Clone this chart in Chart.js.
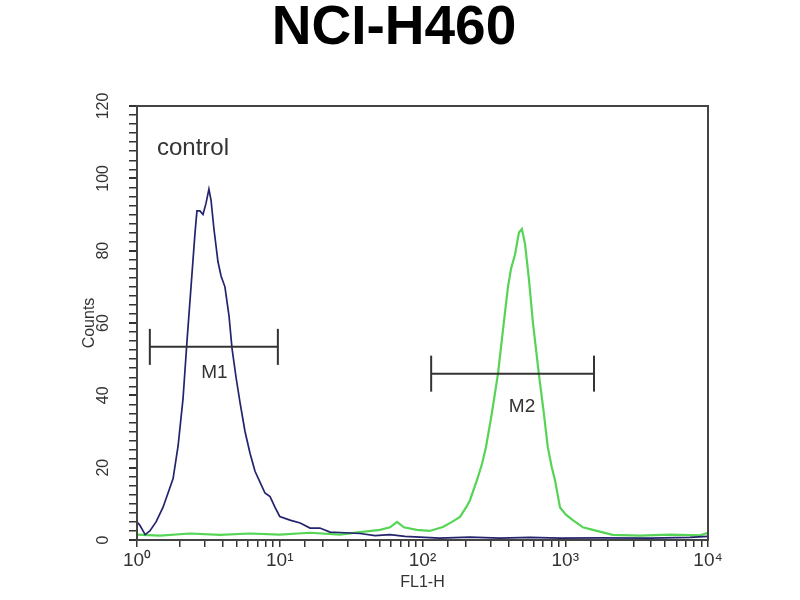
<!DOCTYPE html>
<html>
<head>
<meta charset="utf-8">
<script src="https://cdn.jsdelivr.net/npm/chart.js@4.4.0/dist/chart.umd.min.js"></script>
<style>
  html, body { margin: 0; padding: 0; background: #fff; }
  #wrap { width: 800px; height: 600px; }
</style>
</head>
<body>
<div id="wrap"><canvas id="myChart" width="800" height="600"></canvas></div>
<script>
// control histogram (FL1-H value, counts)
const controlFl1 = [1.0, 1.05, 1.14, 1.23, 1.36, 1.52, 1.65, 1.79, 1.94, 2.10, 2.24, 2.39, 2.55, 2.63, 2.76, 2.90, 3.04, 3.19, 3.30, 3.46, 3.69, 3.88, 4.13, 4.41, 4.63, 4.94, 5.27, 5.71, 6.19, 6.71, 7.27, 7.88, 8.55, 9.27, 10.0, 11.8, 13.9, 16.3, 19.1, 22.5, 28.6, 36.5, 46.5, 59.2, 75.4, 96, 132, 215, 349, 566, 919, 1750, 3925, 7480, 10000];
const controlCounts = [5, 4, 1.5, 2.5, 5, 9, 13, 17, 26, 39, 55, 70, 85, 91, 91, 90, 93, 97, 94, 86, 77, 73, 70, 62, 53, 45, 38, 30, 24, 19, 16, 13, 12, 9, 6.5, 5.5, 4.7, 3.3, 3.3, 2.2, 2, 1.8, 1.2, 1.5, 1, 0.8, 0.5, 0.8, 0.5, 0.7, 0.5, 0.6, 0.5, 0.7, 1];

// NCI-H460 stained sample
const sampleFl1 = [1.0, 1.45, 2.35, 3.81, 6.19, 10.0, 16.3, 26.4, 36.5, 50.4, 59.2, 66.4, 74, 91.2, 112, 139, 161, 183, 202, 215, 241, 261, 278, 306, 338, 366, 397, 417, 431, 445, 474, 497, 522, 557, 594, 653, 708, 755, 806, 847, 919, 1010, 1130, 1330, 1560, 2150, 3340, 5400, 8800, 10000];
const sampleCounts = [1.5, 1.2, 1.8, 1.4, 1.8, 1.5, 2, 1.5, 2.2, 2.8, 3.5, 5, 3.5, 2.8, 2.5, 3.6, 5, 6.4, 9, 11, 16.6, 21, 25.6, 35, 46, 58, 70, 75, 77, 79, 85, 86, 82, 72, 60, 46, 35, 25.6, 20, 16.6, 9, 7, 5.5, 3.5, 2.8, 1.4, 1.2, 1.5, 1.3, 2];

// marker gates
const m1Range = [1.23, 9.7];
const m1Level = 53.4;
const m2Range = [115, 1590];
const m2Level = 46;

const xTickValues = [1, 10, 100, 1000, 10000];
const xTickLabels = ['10\u2070', '10\u00b9', '10\u00b2', '10\u00b3', '10\u2074'];
const yTickValues = [0, 20, 40, 60, 80, 100, 120];

const blue = '#23236e';
const green = '#55d455';
const ink = '#333333';

function toPoints(xs, ys) {
  return xs.map((x, i) => ({ x: x, y: ys[i] }));
}

const gatePlugin = {
  id: 'gateLabels',
  afterDraw(chart) {
    const ctx = chart.ctx;
    const xs = chart.scales.x;
    const ys = chart.scales.y;
    const a = chart.chartArea;

    ctx.save();
    // title
    ctx.fillStyle = '#000';
    ctx.font = 'bold 55px "Liberation Sans", Arial, sans-serif';
    ctx.textAlign = 'center';
    ctx.textBaseline = 'alphabetic';
    ctx.fillText('NCI-H460', 394, 44);

    // frame round the plot
    ctx.strokeStyle = '#444';
    ctx.lineWidth = 2;
    ctx.strokeRect(a.left, a.top, a.right - a.left, a.bottom - a.top);

    // rotated y tick labels
    ctx.fillStyle = ink;
    ctx.font = '16px "Liberation Sans Narrow", "Liberation Sans", Arial, sans-serif';
    ctx.textAlign = 'center';
    ctx.textBaseline = 'middle';
    yTickValues.forEach(v => {
      ctx.save();
      ctx.translate(104, ys.getPixelForValue(v));
      ctx.rotate(-Math.PI / 2);
      ctx.fillText(String(v), 0, 0);
      ctx.restore();
    });

    // annotations
    ctx.textBaseline = 'alphabetic';
    ctx.font = '24px "Liberation Sans", Arial, sans-serif';
    ctx.textAlign = 'left';
    ctx.fillText('control', xs.getPixelForValue(1.38), ys.getPixelForValue(106.4));

    ctx.font = '19px "Liberation Sans", Arial, sans-serif';
    ctx.textAlign = 'center';
    ctx.fillText('M1', xs.getPixelForValue(3.49), ys.getPixelForValue(44.8));
    ctx.fillText('M2', xs.getPixelForValue(498), ys.getPixelForValue(35.4));
    ctx.restore();
  }
};

const ctx = document.getElementById('myChart').getContext('2d');
const myChart = new Chart(ctx, {
  type: 'scatter',
  data: {
    datasets: [
      {
        label: 'M1',
        data: [{ x: m1Range[0], y: m1Level }, { x: m1Range[1], y: m1Level }],
        showLine: true,
        borderColor: ink,
        borderWidth: 2,
        pointStyle: 'line',
        rotation: 90,
        pointRadius: 18,
        pointBorderColor: ink,
        pointBorderWidth: 2
      },
      {
        label: 'M2',
        data: [{ x: m2Range[0], y: m2Level }, { x: m2Range[1], y: m2Level }],
        showLine: true,
        borderColor: ink,
        borderWidth: 2,
        pointStyle: 'line',
        rotation: 90,
        pointRadius: 18,
        pointBorderColor: ink,
        pointBorderWidth: 2
      },
      {
        label: 'control',
        data: toPoints(controlFl1, controlCounts),
        showLine: true,
        borderColor: blue,
        borderWidth: 1.7,
        pointRadius: 0,
        tension: 0
      },
      {
        label: 'NCI-H460',
        data: toPoints(sampleFl1, sampleCounts),
        showLine: true,
        borderColor: green,
        borderWidth: 2.2,
        pointRadius: 0,
        tension: 0
      }
    ]
  },
  options: {
    responsive: false,
    animation: false,
    layout: { padding: { left: 0, right: 92, top: 106, bottom: 0 } },
    plugins: {
      legend: { display: false },
      tooltip: { enabled: false },
      title: { display: false }
    },
    scales: {
      x: {
        type: 'logarithmic',
        min: 1,
        max: 10000,
        afterFit: s => { s.height = 60; },
        border: { display: true, color: '#444', width: 2 },
        grid: { drawOnChartArea: false, drawTicks: true, tickLength: 7, color: ink, lineWidth: 1.5 },
        ticks: {
          autoSkip: false,
          maxRotation: 0,
          minRotation: 0,
          padding: 2,
          color: ink,
          font: { family: '"Liberation Sans", Arial, sans-serif', size: 19 },
          callback: function (value) {
            const i = xTickValues.indexOf(value);
            return i >= 0 ? xTickLabels[i] : '';
          }
        },
        title: {
          display: true,
          text: 'FL1-H',
          color: ink,
          font: { family: '"Liberation Sans", Arial, sans-serif', size: 16 },
          padding: { top: 0, bottom: 8 }
        }
      },
      y: {
        min: 0,
        max: 120,
        afterFit: s => { s.width = 137; },
        border: { display: true, color: '#444', width: 2 },
        grid: {
          drawOnChartArea: false,
          drawTicks: true,
          tickLength: 8,
          color: ink,
          lineWidth: c => (c.tick && c.tick.value % 20 === 0 ? 2 : 1.5)
        },
        ticks: { stepSize: 2.5, autoSkip: false, display: false },
        title: {
          display: true,
          text: 'Counts',
          color: ink,
          font: { family: '"Liberation Sans", Arial, sans-serif', size: 16 },
          padding: { top: 80, bottom: 0 }
        }
      }
    }
  },
  plugins: [gatePlugin]
});
</script>
</body>
</html>
